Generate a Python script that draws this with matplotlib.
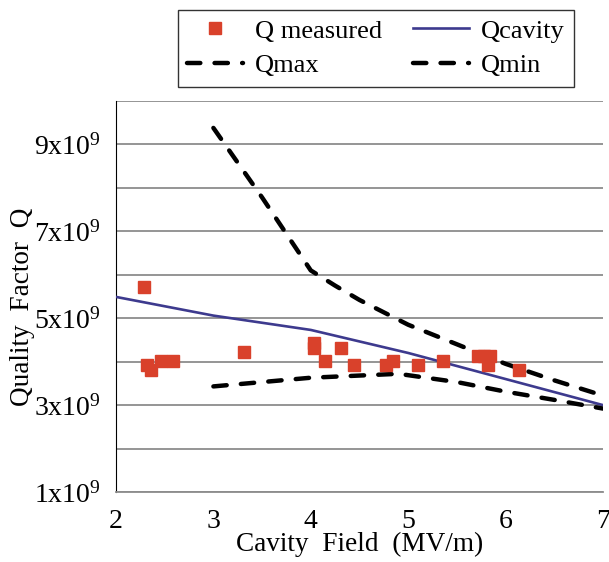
import numpy as np
import matplotlib
matplotlib.use('Agg')
import matplotlib.pyplot as plt
from matplotlib.ticker import FixedLocator, FuncFormatter

plt.rcParams['font.family'] = ['Liberation Serif', 'DejaVu Serif']
plt.rcParams['mathtext.fontset'] = 'custom'
plt.rcParams['mathtext.rm'] = 'Liberation Serif'

# data (Q in units of 1e9)
meas_x = [2.29, 2.32, 2.36, 2.46, 2.59, 3.31, 4.03, 4.03, 4.15, 4.31, 4.44,
          4.77, 4.84, 5.10, 5.36, 5.72, 5.78, 5.84, 5.82, 6.14]
meas_q = [5.71, 3.92, 3.80, 4.01, 4.01, 4.22, 4.32, 4.42, 4.01, 4.31, 3.92,
          3.92, 4.01, 3.92, 4.01, 4.13, 4.13, 4.13, 3.92, 3.80]

cav_x = [2, 3, 4, 5, 6, 7]
cav_q = [5.49, 5.06, 4.73, 4.20, 3.60, 3.00]

qmax_x = [3, 3.5, 4, 4.25, 4.5, 5, 5.5, 6, 6.5, 7]
qmax_q = [9.38, 7.78, 6.10, 5.75, 5.42, 4.85, 4.40, 3.95, 3.57, 3.22]

qmin_x = [3, 4, 4.9, 5.5, 6, 6.5, 7]
qmin_q = [3.43, 3.63, 3.72, 3.53, 3.31, 3.12, 2.92]

fig = plt.figure(figsize=(6.09, 5.62), dpi=100)
ax = fig.add_axes([0.1905, 0.1246, 0.7995, 0.6957])

h_meas, = ax.plot(meas_x, meas_q, 's', color='#d9412b', ms=9, zorder=4)
h_cav, = ax.plot(cav_x, cav_q, '-', color='#3d3a8e', lw=1.9, zorder=3)
h_max, = ax.plot(qmax_x, qmax_q, color='black', lw=3.2, dashes=(3, 3.2),
                 dash_capstyle='round', zorder=3)
h_min, = ax.plot(qmin_x, qmin_q, color='black', lw=3.2, dashes=(3, 3.2),
                 dash_capstyle='round', zorder=3)

ax.set_xlim(2, 7)
ax.set_ylim(1, 10)
ax.set_xticks([2, 3, 4, 5, 6, 7])
ax.set_xticks([2, 3], minor=True)
ax.yaxis.set_major_locator(FixedLocator([1, 3, 5, 7, 9]))
ax.yaxis.set_minor_locator(FixedLocator([2, 4, 6, 8, 10]))
ax.yaxis.set_major_formatter(FuncFormatter(lambda v, p: r'$\mathregular{%dx10^{9}}$' % v))
ax.grid(axis='y', which='both', color='#8c8c8c', lw=1.3)
ax.set_axisbelow(True)
ax.tick_params(axis='y', which='both', length=0, labelsize=20, pad=11)
ax.tick_params(axis='x', which='major', length=0, labelsize=20, pad=12)
ax.tick_params(axis='x', which='minor', length=10, width=1, direction='inout')

for s in ['top', 'right']:
    ax.spines[s].set_visible(False)
ax.spines['bottom'].set_color('#8c8c8c')
ax.spines['bottom'].set_linewidth(1.3)
ax.spines['left'].set_color('black')

ax.set_xlabel('Cavity  Field  (MV/m)', fontsize=19.6, labelpad=-1)
ax.set_ylabel('Quality  Factor  Q', fontsize=19.6, labelpad=-1, y=0.474)

leg = fig.legend([h_meas, h_max, h_cav, h_min],
                 ['Q measured', 'Qmax', 'Qcavity', 'Qmin'],
                 loc='upper left', bbox_to_anchor=(178 / 609, 1 - 10 / 562),
                 borderaxespad=0, ncol=2, fontsize=19,
                 frameon=True, fancybox=False, edgecolor='black',
                 handlelength=2.1, columnspacing=1.2, handletextpad=0.45,
                 borderpad=0.35, labelspacing=0.42)
leg.get_frame().set_linewidth(1.0)

fig.savefig('out.png', dpi=100)
